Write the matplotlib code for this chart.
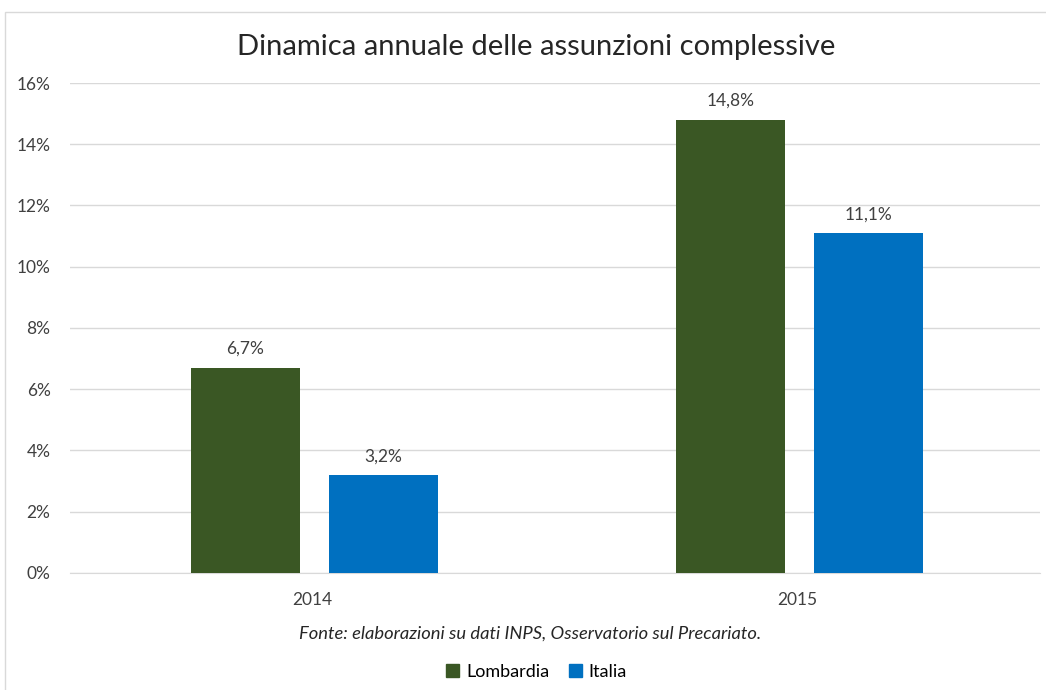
import matplotlib.pyplot as plt
from matplotlib.patches import Rectangle, Patch
import numpy as np

# data
years = ["2014", "2015"]
lombardia = [6.7, 14.8]
italia = [3.2, 11.1]
series_names = ["Lombardia", "Italia"]
colors = ["#3A5724", "#0070C0"]

plt.rcParams['font.family'] = ['Lato', 'DejaVu Sans']

fig = plt.figure(figsize=(10.46, 6.9), dpi=100)
ax = fig.add_axes([0.0669, 0.1696, 0.9274, 0.7101])

x = np.arange(len(years))
w = 0.225
b1 = ax.bar(x - 0.138, lombardia, w, color=colors[0], zorder=3)
b2 = ax.bar(x + 0.146, italia, w, color=colors[1], zorder=3)

for bars, vals in [(b1, lombardia), (b2, italia)]:
    for r, v in zip(bars, vals):
        ax.text(r.get_x() + r.get_width() / 2, v + 0.35, "{:.1f}%".format(v).replace(".", ","),
                ha="center", va="bottom", fontsize=12.5, color="#404040")

ax.set_xlim(-0.5, 1.5)
ax.set_ylim(0, 16)
ax.set_yticks(range(0, 17, 2))
ax.set_yticklabels(["{}%".format(t) for t in range(0, 17, 2)])
ax.set_xticks(x)
ax.set_xticklabels(years)
ax.tick_params(axis="both", length=0, labelsize=12.5, labelcolor="#404040")
ax.tick_params(axis="x", pad=14)
ax.tick_params(axis="y", pad=14)
ax.grid(axis="y", color="#D9D9D9", linewidth=1, zorder=0)
for s in ["top", "right", "left"]:
    ax.spines[s].set_visible(False)
ax.spines["bottom"].set_color("#D9D9D9")

fig.text(0.513, 0.932, "Dinamica annuale delle assunzioni complessive",
         ha="center", va="center", fontsize=21, color="#262626")
fig.text(0.507, 0.082, "Fonte: elaborazioni su dati INPS, Osservatorio sul Precariato.",
         ha="center", va="center", fontsize=13.2, style="italic", color="#262626")

handles = [Patch(color=c) for c in colors]
fig.legend(handles, series_names, loc="center", bbox_to_anchor=(0.513, 0.026), ncol=2,
           frameon=False, fontsize=13, handlelength=0.7, handleheight=0.7,
           handletextpad=0.4, columnspacing=1.1)

fig.patches.append(Rectangle((0.005, -0.01), 1.0, 0.993, transform=fig.transFigure,
                             fill=False, edgecolor="#D9D9D9", linewidth=1))

fig.savefig("out.png", dpi=100)
